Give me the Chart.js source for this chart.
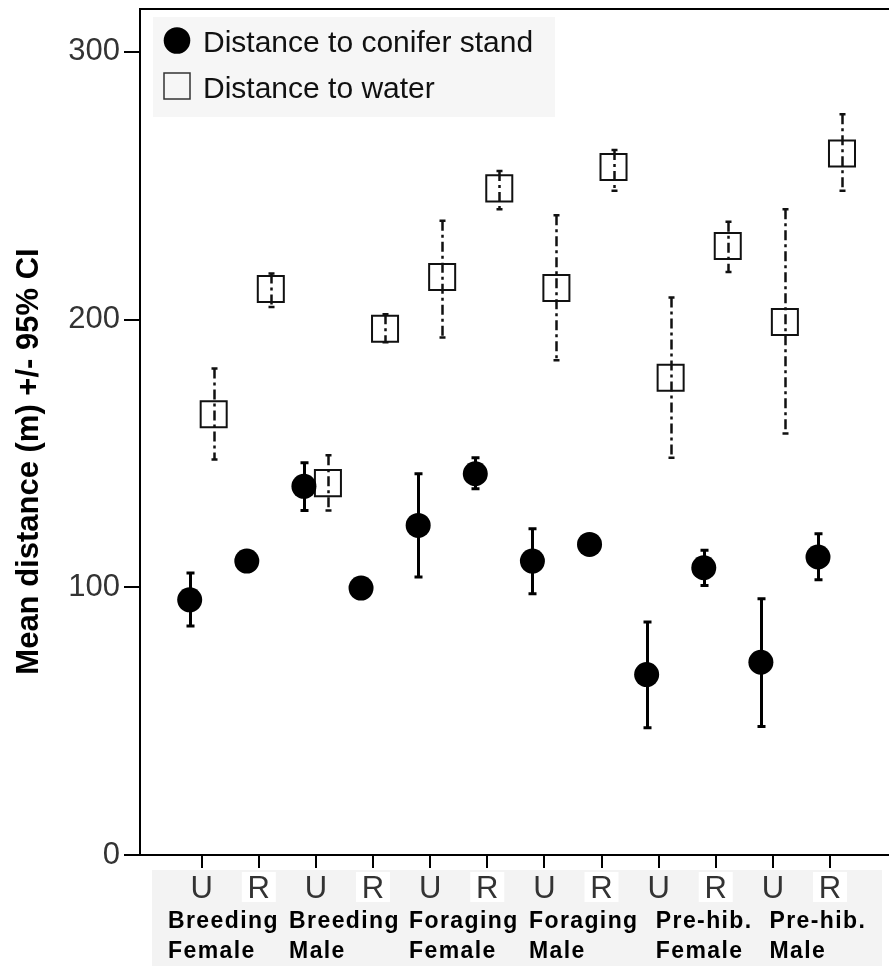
<!DOCTYPE html>
<html>
<head>
<meta charset="utf-8">
<script src="https://cdn.jsdelivr.net/npm/chart.js@4.4.0/dist/chart.umd.min.js"></script>
<style>
  html, body { margin: 0; padding: 0; background: #fff; }
  #wrap { width: 889px; height: 970px; position: relative; }
</style>
</head>
<body>
<div id="wrap"><canvas id="chart" width="889" height="970"></canvas></div>
<script>
// categories: U / R per group
const tickLabels = ['U', 'R', 'U', 'R', 'U', 'R', 'U', 'R', 'U', 'R', 'U', 'R'];
const groups = [
    ['Breeding', 'Female'], ['Breeding', 'Male'],
    ['Foraging', 'Female'], ['Foraging', 'Male'],
    ['Pre-hib.', 'Female'], ['Pre-hib.', 'Male']
];
const yTicks = [0, 100, 200, 300];

// Distance to conifer stand (mean and 95% CI)
const coniferMean = [95.3, 109.8, 137.7, 99.7, 123.1, 142.4, 109.8, 116.0, 67.4, 107.3, 72.0, 111.3];
const coniferLow  = [85.5, 107.0, 128.7, 97.2, 103.8, 136.8, 97.6, 113.5, 47.5, 100.7, 48.0, 102.8];
const coniferHigh = [105.3, 112.5, 146.5, 102.2, 142.4, 148.4, 121.9, 118.5, 87.0, 113.8, 95.7, 120.0];

// Distance to water (mean and 95% CI)
const waterMean = [164.6, 211.4, 138.9, 196.6, 215.9, 249.0, 211.8, 257.0, 178.3, 227.5, 199.1, 262.0];
const waterLow  = [147.7, 204.7, 128.7, 191.5, 193.3, 241.2, 184.8, 248.1, 148.4, 217.8, 157.4, 248.1];
const waterHigh = [181.7, 217.2, 149.3, 202.0, 236.9, 255.5, 239.0, 263.3, 208.2, 236.5, 241.2, 276.7];

const xTicks = tickLabels.map((_, i) => i + 1);
const FONT = '"Liberation Sans", Arial, sans-serif';

function toPoints(values, shift) {
    return values.map((v, i) => ({ x: i + 1 + shift, y: v }));
}

// error bars drawn through the scales
const errorBars = {
    id: 'errorBars',
    afterDatasetsDraw(chart) {
        const { ctx, scales: { x, y } } = chart;
        chart.data.datasets.forEach(ds => {
            ctx.save();
            ctx.strokeStyle = ds.barColor;
            ctx.lineWidth = ds.barWidth;
            ds.data.forEach((p, i) => {
                const px = Math.round(x.getPixelForValue(p.x)) + 0.5;
                const top = y.getPixelForValue(ds.high[i]);
                const bot = y.getPixelForValue(ds.low[i]);
                ctx.setLineDash(ds.barDash);
                ctx.beginPath();
                ctx.moveTo(px, top);
                ctx.lineTo(px, bot);
                ctx.stroke();
                ctx.setLineDash([]);
                ctx.beginPath();
                ctx.moveTo(px - ds.cap, top); ctx.lineTo(px + ds.cap, top);
                ctx.moveTo(px - ds.cap, bot); ctx.lineTo(px + ds.cap, bot);
                ctx.stroke();
            });
            ctx.restore();
        });
    }
};

// backgrounds, frame, legend, group labels, axis title
const decorations = {
    id: 'decorations',
    beforeDraw(chart) {
        const { ctx, scales: { x } } = chart;
        ctx.save();
        ctx.fillStyle = '#f3f3f3';
        ctx.fillRect(152, 870, 730, 96);
        ctx.fillStyle = '#ffffff';
        xTicks.forEach((v, i) => {
            if (tickLabels[i] !== 'R') return;
            const px = x.getPixelForValue(v);
            ctx.fillRect(px - 17, 872, 34, 30);
        });
        ctx.fillStyle = '#f6f6f6';
        ctx.fillRect(153, 17, 402, 100);
        ctx.restore();
    },
    afterDraw(chart) {
        const { ctx, chartArea, scales: { x } } = chart;
        ctx.save();
        // top frame line
        ctx.strokeStyle = '#000';
        ctx.lineWidth = 2;
        ctx.beginPath();
        ctx.moveTo(chartArea.left, chartArea.top);
        ctx.lineTo(chartArea.right, chartArea.top);
        ctx.stroke();

        // legend
        ctx.fillStyle = '#000';
        ctx.beginPath();
        ctx.arc(177, 40.5, 13.3, 0, Math.PI * 2);
        ctx.fill();
        ctx.strokeStyle = '#333';
        ctx.lineWidth = 1.5;
        ctx.strokeRect(164, 73, 26, 26);
        ctx.fillStyle = '#111';
        ctx.font = '30px ' + FONT;
        ctx.textBaseline = 'alphabetic';
        ctx.fillText('Distance to conifer stand', 203, 52);
        ctx.fillText('Distance to water', 203, 97.5);

        // group labels under the U/R ticks
        const groupLabelAt = [0.41, 2.53, 4.63, 6.73, 8.95, 10.94];
        ctx.fillStyle = '#000';
        ctx.font = 'bold 23px ' + FONT;
        if ('letterSpacing' in ctx) ctx.letterSpacing = '1.4px';
        groups.forEach((lines, i) => {
            const px = x.getPixelForValue(groupLabelAt[i]);
            ctx.fillText(lines[0], px, 928);
            ctx.fillText(lines[1], px, 958);
        });
        if ('letterSpacing' in ctx) ctx.letterSpacing = '0px';

        // y axis title
        ctx.translate(38, 461.5);
        ctx.rotate(-Math.PI / 2);
        ctx.textAlign = 'center';
        ctx.font = 'bold 31px ' + FONT;
        ctx.fillText('Mean distance (m) +/- 95% CI', 0, 0);
        ctx.restore();
    }
};

new Chart(document.getElementById('chart'), {
    type: 'scatter',
    data: {
        datasets: [{
            label: 'Distance to conifer stand',
            data: toPoints(coniferMean, -0.21),
            low: coniferLow,
            high: coniferHigh,
            pointStyle: 'circle',
            pointRadius: 12.5,
            pointHoverRadius: 12.5,
            backgroundColor: '#000',
            borderColor: '#000',
            borderWidth: 0,
            barColor: '#000',
            barWidth: 3,
            barDash: [],
            cap: 4
        }, {
            label: 'Distance to water',
            data: toPoints(waterMean, 0.21),
            low: waterLow,
            high: waterHigh,
            pointStyle: 'rect',
            pointRadius: 18.4,
            pointHoverRadius: 18.4,
            backgroundColor: '#fff',
            borderColor: '#111',
            borderWidth: 2,
            barColor: '#111',
            barWidth: 2.5,
            barDash: [10, 4, 3, 4],
            cap: 3
        }]
    },
    options: {
        responsive: false,
        animation: false,
        devicePixelRatio: 1,
        layout: { autoPadding: false, padding: { top: 9, right: 0, bottom: 0, left: 0 } },
        plugins: {
            legend: { display: false },
            tooltip: { enabled: false }
        },
        scales: {
            x: {
                type: 'linear',
                min: -0.08,
                max: 13.033,
                afterBuildTicks: s => { s.ticks = xTicks.map(v => ({ value: v })); },
                afterFit: s => {
                    s.height = 115;
                    s.paddingLeft = 0;
                    s.paddingRight = 0;
                },
                ticks: {
                    callback: v => tickLabels[v - 1],
                    font: { family: FONT, size: 31 },
                    color: '#333',
                    padding: 3,
                    maxRotation: 0,
                    autoSkip: false
                },
                grid: { drawOnChartArea: false, drawTicks: true, tickLength: 13, color: '#000', lineWidth: 2 },
                border: { display: true, color: '#000', width: 2 }
            },
            y: {
                min: 0,
                max: 316,
                afterBuildTicks: s => { s.ticks = yTicks.map(v => ({ value: v })); },
                afterFit: s => {
                    s.width = 140;
                    s.paddingTop = 0;
                    s.paddingBottom = 0;
                },
                ticks: {
                    font: { family: FONT, size: 31 },
                    color: '#333',
                    padding: 4
                },
                grid: { drawOnChartArea: false, drawTicks: true, tickLength: 16, color: '#000', lineWidth: 2 },
                border: { display: true, color: '#000', width: 2 }
            }
        }
    },
    plugins: [decorations, errorBars]
});
</script>
</body>
</html>
